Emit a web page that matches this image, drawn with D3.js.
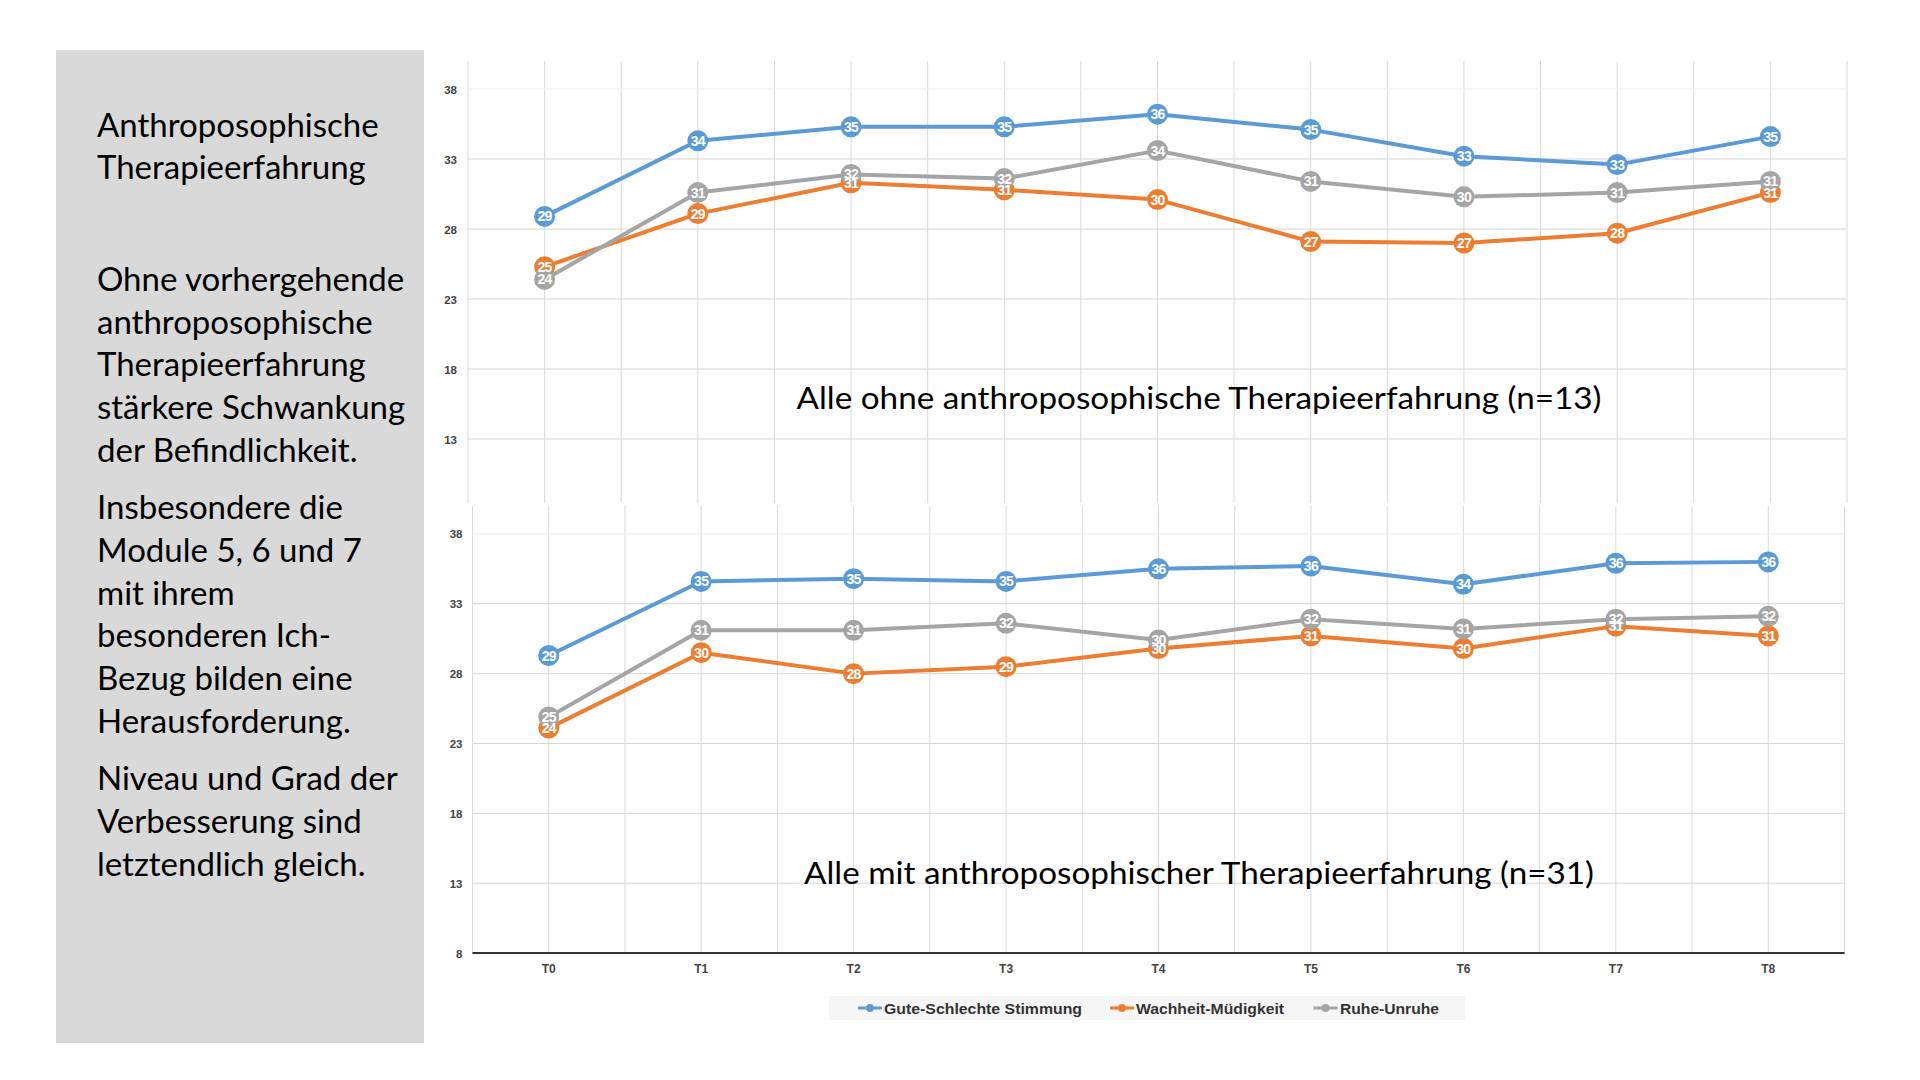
<!DOCTYPE html>
<html>
<head>
<meta charset="utf-8">
<script src="https://cdn.jsdelivr.net/npm/d3@7"></script>
<style>
  html, body { margin: 0; padding: 0; background: #ffffff; }
  svg { display: block; }
</style>
</head>
<body>
<svg id="chart" width="1920" height="1080"></svg>
<script>
// ---------------- DATA ----------------
const categories = ["T0", "T1", "T2", "T3", "T4", "T5", "T6", "T7", "T8"];
const seriesNames = ["Gute-Schlechte Stimmung", "Wachheit-Müdigkeit", "Ruhe-Unruhe"];
const yTicks = [8, 13, 18, 23, 28, 33, 38];

// Alle ohne anthroposophische Therapieerfahrung (n=13)
const ohneGute  = [28.9, 34.3, 35.3, 35.3, 36.2, 35.1, 33.2, 32.6, 34.6];
const ohneWach  = [25.3, 29.1, 31.3, 30.8, 30.1, 27.1, 27.0, 27.7, 30.6];
const ohneRuhe  = [24.4, 30.6, 31.9, 31.6, 33.6, 31.4, 30.3, 30.6, 31.4];

// Alle mit anthroposophischer Therapieerfahrung (n=31)
const mitGute   = [29.3, 34.6, 34.8, 34.6, 35.5, 35.7, 34.4, 35.9, 36.0];
const mitWach   = [24.1, 29.5, 28.0, 28.5, 29.8, 30.7, 29.8, 31.4, 30.7];
const mitRuhe   = [24.9, 31.1, 31.1, 31.6, 30.4, 31.9, 31.2, 31.9, 32.1];

const panelTitle = ["Anthroposophische", "Therapieerfahrung"];
const panelParagraphs = [
  ["Ohne vorhergehende", "anthroposophische", "Therapieerfahrung", "stärkere Schwankung", "der Befindlichkeit."],
  ["Insbesondere die", "Module 5, 6 und 7", "mit ihrem", "besonderen Ich-", "Bezug bilden eine", "Herausforderung."],
  ["Niveau und Grad der", "Verbesserung sind", "letztendlich gleich."]
];
const chartTitles = ["Alle ohne anthroposophische Therapieerfahrung (n=13)",
                     "Alle mit anthroposophischer Therapieerfahrung (n=31)"];

// ---------------- STYLE ----------------
const colors = ["#5b9bd5", "#ed7d31", "#a5a5a5"];
const bodyFont = "Lato, 'Open Sans', sans-serif";
const axisFont = "'Liberation Sans', Arial, sans-serif";

const svg = d3.select("#chart");

// ---------- left grey panel ----------
svg.append("rect").attr("x", 56).attr("y", 50).attr("width", 368).attr("height", 993).attr("fill", "#d9d9d9");

const txt = svg.append("g").attr("font-family", bodyFont).attr("font-size", 33).attr("fill", "#000");
panelTitle.forEach((t, i) => {
  txt.append("text").attr("x", 97).attr("y", 136.5 + i * 42).text(t);
});
const paraStart = [290.7, 519, 790];
panelParagraphs.forEach((p, pi) => {
  p.forEach((t, i) => {
    txt.append("text").attr("x", 97).attr("y", paraStart[pi] + i * 42.8).text(t);
  });
});

// ---------- chart drawing ----------
function drawChart(cfg) {
  const g = svg.append("g");
  const x = d3.scaleBand().domain(categories).range([cfg.left, cfg.right]).padding(0);
  const y = d3.scaleLinear().domain([8, 40]).range([cfg.bottom, cfg.top]);
  const bw = x.bandwidth();

  // background
  g.append("rect").attr("x", cfg.bgX).attr("y", cfg.bgY).attr("width", cfg.bgW).attr("height", cfg.bgH).attr("fill", "#fff");

  // vertical gridlines: band edges and centres
  const vx = d3.range(0, categories.length * 2 + 1).map(k => cfg.left + k * bw / 2);
  g.selectAll(".vg").data(vx).join("line")
    .attr("x1", d => d).attr("x2", d => d)
    .attr("y1", cfg.top).attr("y2", cfg.gridBottom)
    .attr("stroke", "#dadada").attr("stroke-width", 1);

  // horizontal gridlines
  g.selectAll(".hg").data(yTicks.filter(t => t > 8)).join("line")
    .attr("x1", cfg.left).attr("x2", cfg.right)
    .attr("y1", d => y(d)).attr("y2", d => y(d))
    .attr("stroke", d => d === 38 ? "#ececec" : "#d6d6d6").attr("stroke-width", 1);

  // y axis labels
  const yAx = d3.axisLeft(y).tickValues(cfg.showZero ? yTicks : yTicks.filter(t => t > 8)).tickSize(0).tickPadding(0);
  const ya = g.append("g").attr("transform", `translate(${cfg.labelRight},0)`).call(yAx);
  ya.select(".domain").remove();
  ya.selectAll("text").attr("font-family", axisFont).attr("font-weight", "bold").attr("font-size", 11.5).attr("fill", "#444").attr("dy", "0.35em");

  if (cfg.showX) {
    g.append("line").attr("x1", cfg.left).attr("x2", cfg.right).attr("y1", y(8)).attr("y2", y(8))
      .attr("stroke", "#333").attr("stroke-width", 2);
    const xAx = d3.axisBottom(x).tickSize(0).tickPadding(0);
    const xa = g.append("g").attr("transform", `translate(0,${y(8) + 20})`).call(xAx);
    xa.select(".domain").remove();
    xa.selectAll("text").attr("font-family", axisFont).attr("font-weight", "bold").attr("font-size", 12).attr("fill", "#444").attr("dy", 0);
  }

  // chart title
  g.append("text").attr("x", 1199).attr("y", cfg.titleY).attr("text-anchor", "middle")
    .attr("font-family", bodyFont).attr("font-size", 31).attr("fill", "#000")
    .attr("textLength", cfg.titleW).attr("lengthAdjust", "spacingAndGlyphs")
    .text(cfg.title);

  const line = d3.line().x((d, i) => x(categories[i]) + bw / 2).y(d => y(d));
  cfg.series.forEach((s, si) => {
    g.append("path").datum(s).attr("d", line).attr("fill", "none")
      .attr("stroke", colors[si]).attr("stroke-width", 4).attr("stroke-linejoin", "round");
  });
  cfg.series.forEach((s, si) => {
    g.selectAll(null).data(s).join("circle")
      .attr("cx", (d, i) => x(categories[i]) + bw / 2).attr("cy", d => y(d))
      .attr("r", 10.5).attr("fill", colors[si]);
  });
  cfg.series.forEach((s, si) => {
    g.selectAll(null).data(s).join("text")
      .attr("x", (d, i) => x(categories[i]) + bw / 2).attr("y", d => y(d))
      .attr("dy", "0.36em").attr("text-anchor", "middle")
      .attr("font-family", axisFont).attr("font-weight", "bold").attr("font-size", 14)
      .attr("letter-spacing", -0.7).attr("fill", "#fff")
      .text(d => Math.round(d));
  });
}

drawChart({
  left: 468, right: 1847, top: 61, bottom: 509, gridBottom: 503,
  bgX: 430, bgY: 40, bgW: 1440, bgH: 463,
  labelRight: 457, showX: false, showZero: false,
  title: chartTitles[0], titleY: 409, titleW: 805,
  series: [ohneGute, ohneWach, ohneRuhe]
});

drawChart({
  left: 472.5, right: 1844.5, top: 506, bottom: 953, gridBottom: 953,
  bgX: 430, bgY: 503, bgW: 1440, bgH: 490,
  labelRight: 462.5, showX: true, showZero: true,
  title: chartTitles[1], titleY: 884, titleW: 790,
  series: [mitGute, mitWach, mitRuhe]
});

// ---------- legend ----------
const lg = svg.append("g");
lg.append("rect").attr("x", 829).attr("y", 996).attr("width", 636).attr("height", 24).attr("fill", "#f6f6f6");
const legendMarkerX = [870, 1122, 1325.5];
const legendTextX = [884, 1136, 1340];
const legendTextW = [198, 148, 99];
seriesNames.forEach((n, i) => {
  lg.append("line").attr("x1", legendMarkerX[i] - 12).attr("x2", legendMarkerX[i] + 12)
    .attr("y1", 1008).attr("y2", 1008).attr("stroke", colors[i]).attr("stroke-width", 3);
  lg.append("circle").attr("cx", legendMarkerX[i]).attr("cy", 1008).attr("r", 4).attr("fill", colors[i]);
  lg.append("text").attr("x", legendTextX[i]).attr("y", 1013.5)
    .attr("font-family", axisFont).attr("font-weight", "bold").attr("font-size", 15).attr("fill", "#333")
    .attr("textLength", legendTextW[i]).attr("lengthAdjust", "spacingAndGlyphs")
    .text(n);
});
</script>
</body>
</html>
